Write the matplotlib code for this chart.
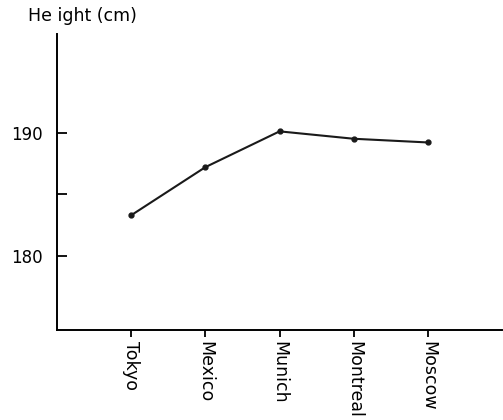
import matplotlib.pyplot as plt

cities = ['Tokyo', 'Mexico', 'Munich', 'Montreal', 'Moscow']
heights = [183.3, 187.2, 190.1, 189.5, 189.2]
y_ticks = [180, 185, 190]
y_labels = ['180', '', '190']

plt.rcParams['font.family'] = ['DejaVu Sans']

fig = plt.figure(figsize=(5.03, 4.20), dpi=100)
ax = fig.add_axes([0.1133, 0.2143, 0.885, 0.705])

xs = list(range(len(cities)))
ax.plot(xs, heights, color='#1a1a1a', linewidth=1.5, marker='o', markersize=3.5)

ax.set_xlim(-1, 5)
ax.set_ylim(174, 198)

ax.spines['top'].set_visible(False)
ax.spines['right'].set_visible(False)
ax.spines['left'].set_linewidth(1.4)
ax.spines['bottom'].set_linewidth(1.4)

ax.set_yticks(y_ticks)
ax.set_yticklabels(y_labels, fontsize=12)
ax.tick_params(axis='y', direction='in', length=7, width=1.3, pad=10)

ax.set_xticks(xs)
ax.set_xticklabels(cities, rotation=-90, fontsize=12.5, va='top', ha='center')
ax.tick_params(axis='x', direction='out', length=5, width=1.3, pad=3)

fig.text(0.056, 0.962, 'He ight (cm)', fontsize=12.5, va='center', ha='left')

fig.savefig('out.png', dpi=100)
